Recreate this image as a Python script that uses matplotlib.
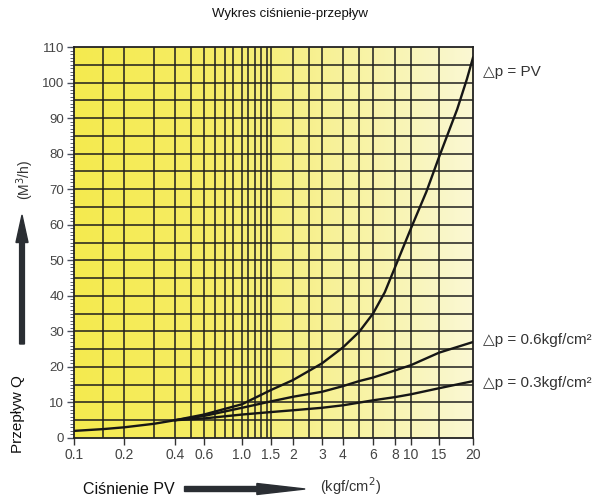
import numpy as np
import matplotlib
matplotlib.use("Agg")
import matplotlib.pyplot as plt
from matplotlib.patches import FancyArrow
from matplotlib.colors import LinearSegmentedColormap

plt.rcParams['font.family'] = ['Liberation Sans', 'DejaVu Sans']

# ---- data ----
pv_x = [0.1, 0.15, 0.2, 0.3, 0.4, 0.6, 1.0, 1.5, 2, 3, 4, 5, 6, 7, 8, 10, 12.5, 15, 17.5, 19, 20]
pv_q = [2.0, 2.5, 3.0, 4.0, 5.0, 6.6, 9.5, 13.5, 16.3, 21, 25.5, 29.8, 35, 41, 48, 59, 69.3, 79, 92.5, 101, 107]

p06_x = [0.4, 0.6, 1.0, 1.5, 2, 3, 4, 5, 6, 8, 10, 15, 20]
p06_q = [5.0, 6.2, 8.5, 10.3, 11.6, 13.0, 14.6, 16.0, 17.0, 19.0, 20.5, 24.0, 27.0]

p03_x = [0.4, 0.6, 1.0, 1.5, 2, 3, 4, 6, 8, 10, 15, 20]
p03_q = [5.0, 5.5, 6.6, 7.3, 7.8, 8.5, 9.2, 10.6, 11.5, 12.3, 14.0, 16.0]

xtick_vals = [0.1, 0.2, 0.4, 0.6, 1.0, 1.5, 2, 3, 4, 6, 8, 10, 15, 20]
xtick_labels = ['0.1', '0.2', '0.4', '0.6', '1.0', '1.5', '2', '3', '4', '6', '8', '10', '15', '20']
ytick_vals = list(range(0, 111, 10))

grid_x = [0.15, 0.2, 0.3, 0.4, 0.5, 0.6, 0.7, 0.8, 0.9, 1.0, 1.1, 1.2, 1.3, 1.4, 1.5,
          2, 2.5, 3, 4, 5, 6, 8, 10, 15]
grid_y = list(range(5, 110, 5))

# ---- axis scale of the printed chart paper (value -> fraction of width) ----
scale_vals = np.array([0.1, 0.15, 0.2, 0.3, 0.4, 0.5, 0.6, 0.7, 0.8, 0.9, 1.0, 1.1, 1.2, 1.3,
                       1.4, 1.5, 2, 2.5, 3, 4, 5, 6, 8, 10, 15, 20])
scale_frac = np.array([0, 0.0727, 0.1253, 0.2005, 0.2531, 0.2932, 0.3258, 0.3534, 0.3784,
                       0.3985, 0.4211, 0.4361, 0.4536, 0.4687, 0.4837, 0.4937, 0.5489,
                       0.5890, 0.6216, 0.6742, 0.7143, 0.7494, 0.8045, 0.8446, 0.9148, 1.0])
log_vals = np.log10(scale_vals)


def fwd(x):
    x = np.asarray(x, dtype=float)
    return np.interp(np.log10(np.maximum(x, 1e-9)), log_vals, scale_frac)


def inv(y):
    y = np.asarray(y, dtype=float)
    return 10 ** np.interp(y, scale_frac, log_vals)


fig = plt.figure(figsize=(6.03, 5.0), dpi=100)
ax = fig.add_axes([0.1227, 0.124, 0.6617, 0.782])
ax.set_xscale('function', functions=(fwd, inv))

# gradient background
cmap = LinearSegmentedColormap.from_list('paper', [
    (0.0, (0.960, 0.920, 0.31)),
    (0.35, (0.962, 0.928, 0.40)),
    (0.65, (0.970, 0.948, 0.60)),
    (1.0, (0.982, 0.972, 0.83))])
grad = np.linspace(0, 1, 256).reshape(1, -1)
ax.imshow(grad, cmap=cmap, extent=[0, 1, 0, 1], transform=ax.transAxes,
          aspect='auto', zorder=0, interpolation='bilinear')

ax.set_xlim(0.1, 20)
ax.set_ylim(0, 110)

gcol = '#1e1e1e'
for gx in grid_x:
    ax.axvline(gx, color=gcol, lw=1.1, zorder=1)
for gy in grid_y:
    ax.axhline(gy, color=gcol, lw=1.1, zorder=1)

ccol = '#161616'
ax.plot(pv_x, pv_q, color=ccol, lw=1.7, zorder=3, solid_joinstyle='round')
ax.plot(p06_x, p06_q, color=ccol, lw=1.7, zorder=3, solid_joinstyle='round')
ax.plot(p03_x, p03_q, color=ccol, lw=1.7, zorder=3, solid_joinstyle='round')

for s in ax.spines.values():
    s.set_color('#222222')
    s.set_linewidth(1.3)

ax.set_xticks(xtick_vals)
ax.set_xticklabels(xtick_labels)
ax.set_xticks([], minor=True)
ax.set_yticks(ytick_vals)
ax.set_yticks(np.arange(0, 111, 1), minor=True)
ax.tick_params(axis='x', which='major', direction='out', length=5, width=1.0,
               color='#333333', labelsize=10, labelcolor='#444444', pad=2)
ax.tick_params(axis='y', which='major', direction='out', length=5, width=1.0,
               color='#4a5060', labelsize=9.5, labelcolor='#444444', pad=2)
ax.tick_params(axis='y', which='minor', direction='out', length=3, width=0.7,
               color='#5a6070')

# curve labels
for txt, q in [('△p = PV', 103), ('△p = 0.6kgf/cm²', 27.6), ('△p = 0.3kgf/cm²', 15.5)]:
    ax.annotate(txt, xy=(1, q), xycoords=('axes fraction', 'data'),
                xytext=(7, 0), textcoords='offset points', ha='left', va='center',
                fontsize=11, color='#333333', annotation_clip=False)

# title and axis texts
fig.text(0.481, 0.972, 'Wykres ciśnienie-przepływ', ha='center', va='center',
         fontsize=9.5, color='#111111')
fig.text(0.0415, 0.64, '(M$^3$/h)', rotation=90, ha='center', va='center',
         fontsize=10, color='#333333')
fig.text(0.030, 0.172, 'Przepływ Q', rotation=90, ha='center', va='center',
         fontsize=11, color='#111111')
fig.text(0.214, 0.022, 'Ciśnienie PV', ha='center', va='center',
         fontsize=11.5, color='#111111')
fig.text(0.582, 0.028, '(kgf/cm$^2$)', ha='center', va='center',
         fontsize=10.5, color='#333333')

# arrows
fig.patches.append(FancyArrow(0.0365, 0.312, 0, 0.258, width=0.008, head_width=0.020,
                              head_length=0.055, length_includes_head=True,
                              color='#2a2e33', transform=fig.transFigure, figure=fig))
fig.patches.append(FancyArrow(0.306, 0.022, 0.200, 0, width=0.010, head_width=0.022,
                              head_length=0.080, length_includes_head=True,
                              color='#2a2e33', transform=fig.transFigure, figure=fig))

fig.savefig('out.png', dpi=100)
